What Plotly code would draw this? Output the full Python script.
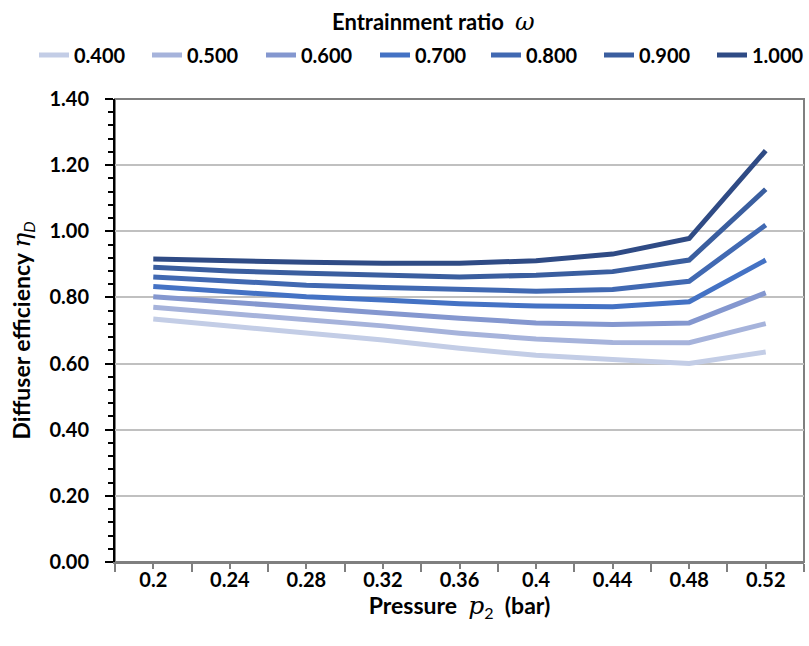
import plotly.graph_objects as go

pressure_labels = ["0.2", "0.24", "0.28", "0.32", "0.36", "0.4", "0.44", "0.48", "0.52"]
ratio_names = ["0.400", "0.500", "0.600", "0.700", "0.800", "0.900", "1.000"]

eff_040 = [0.735, 0.714, 0.691, 0.671, 0.646, 0.625, 0.612, 0.600, 0.635]
eff_050 = [0.770, 0.752, 0.731, 0.714, 0.692, 0.674, 0.664, 0.663, 0.721]
eff_060 = [0.802, 0.785, 0.767, 0.753, 0.737, 0.723, 0.718, 0.723, 0.814]
eff_070 = [0.833, 0.817, 0.802, 0.792, 0.781, 0.774, 0.772, 0.787, 0.913]
eff_080 = [0.862, 0.849, 0.837, 0.830, 0.823, 0.819, 0.824, 0.849, 1.019]
eff_090 = [0.891, 0.880, 0.873, 0.867, 0.862, 0.867, 0.878, 0.913, 1.127]
eff_100 = [0.916, 0.910, 0.906, 0.903, 0.903, 0.911, 0.931, 0.978, 1.244]

series = [eff_040, eff_050, eff_060, eff_070, eff_080, eff_090, eff_100]
colors = ["#C3CDE6", "#A6B3DB", "#8497CF", "#4472C4", "#4169B2", "#3A5E9F", "#2F4B85"]

# legend text left edges (px) in the reference layout
legend_text_x = [75, 188, 302, 416, 527, 640, 753]

FONT = "Lato"
W, H = 809, 646
x_idx = list(range(len(pressure_labels)))

fig = go.Figure()
legend_layouts = {}
for i, (name, vals, col) in enumerate(zip(ratio_names, series, colors)):
    lname = "legend" if i == 0 else f"legend{i + 1}"
    fig.add_trace(go.Scatter(
        x=x_idx, y=vals, mode="lines", name=name,
        line=dict(color=col, width=5), legend=lname,
    ))
    legend_layouts[lname] = dict(
        orientation="h", xref="container", yref="container",
        x=(legend_text_x[i] - 41) / W, xanchor="left",
        y=1 - 55 / H, yanchor="middle",
        font=dict(family=FONT, size=20, color="black", weight="bold"),
        bgcolor="rgba(0,0,0,0)", borderwidth=0, itemwidth=30,
    )

fig.update_layout(
    width=W, height=H,
    margin=dict(l=115, r=5, t=99, b=84, autoexpand=False),
    plot_bgcolor="white", paper_bgcolor="white",
    font=dict(family=FONT, size=20, color="black"),
    showlegend=True,
    **legend_layouts,
    xaxis=dict(
        range=[-0.5, 8.5],
        tickmode="array", tickvals=x_idx, ticktext=pressure_labels,
        ticks="outside", ticklen=5, tickcolor="#7F7F7F", tickwidth=1.5,
        minor=dict(tickmode="array", tickvals=[i - 0.5 for i in range(10)],
                   ticks="outside", ticklen=8, tickcolor="#7F7F7F", tickwidth=1.5),
        showline=True, linecolor="#7F7F7F", linewidth=2,
        showgrid=False, zeroline=False,
        ticklabelstandoff=-6,
        tickfont=dict(family=FONT, size=20, weight="bold"),
        title=dict(text="<b>Pressure  </b><i><span style='font-family:DejaVu Serif;font-size:25px'>p</span></i><sub>2</sub><b>  (bar)</b>",
                   font=dict(family=FONT, size=23), standoff=0),
    ),
    yaxis=dict(
        range=[0, 1.4], dtick=0.2, tickformat=".2f",
        ticks="outside", ticklen=8, tickcolor="black", tickwidth=1.5,
        minor=dict(dtick=0.04, ticks="outside", ticklen=5, tickcolor="black", tickwidth=1.5, showgrid=False),
        showline=True, linecolor="black", linewidth=2,
        showgrid=True, gridcolor="#C0C0C0", gridwidth=1.5,
        zeroline=False,
        ticklabelstandoff=12,
        tickfont=dict(family=FONT, size=20, weight="bold"),
        title=dict(text="<b>Diffuser efficiency </b><i><span style='font-family:DejaVu Serif;font-size:25px'>η</span><sub>D</sub></i>",
                   font=dict(family=FONT, size=23), standoff=12),
    ),
    shapes=[dict(type="rect", xref="paper", yref="paper", x0=0, x1=1, y0=0, y1=1,
                 line=dict(color="#7F7F7F", width=2), layer="below")],
    annotations=[dict(text="<b>Entrainment ratio </b> <span style='font-family:DejaVu Serif;font-size:24px'><i>ω</i></span>",
                      xref="paper", yref="paper", x=(433 - 115) / 689, y=(H - 84 - 22) / 463,
                      xanchor="center", yanchor="middle",
                      showarrow=False, font=dict(family=FONT, size=22, color="black"))],
)

fig.write_html("out.html", config={"displayModeBar": False},
               post_script="document.body.style.margin='0';")
